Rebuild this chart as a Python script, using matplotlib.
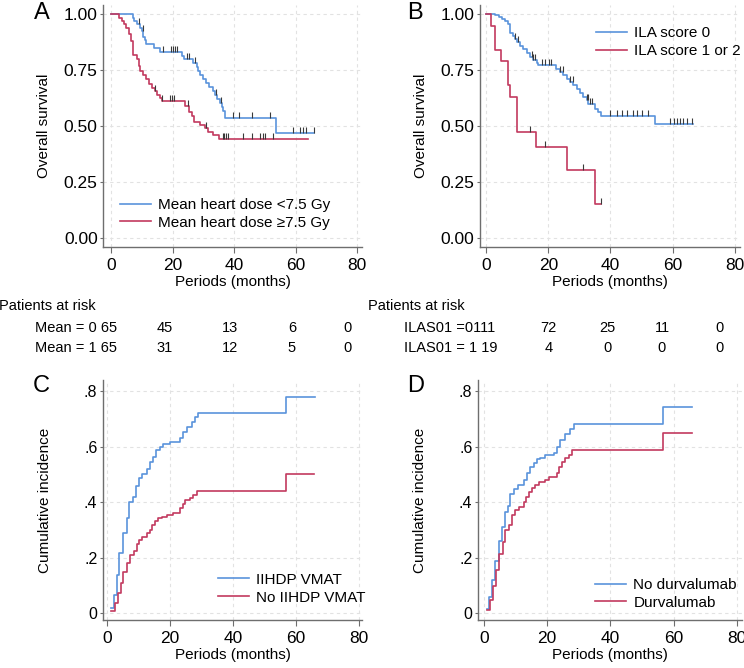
import numpy as np
import matplotlib
matplotlib.use("Agg")
import matplotlib.pyplot as plt

plt.rcParams['font.family'] = ['Liberation Sans', 'DejaVu Sans']

BLUE = '#5a93dc'
RED = '#c23a5f'
W, H = 744, 668

# ---- panel A : mean heart dose (KM) ----
a0_t = [7.0, 7.5, 8.5, 9.5, 10.0, 10.5, 11.0, 11.5, 14.0, 16.0, 23.0, 23.8, 26.8, 27.8, 28.3, 29.0,
        30.0, 31.0, 32.0, 33.0, 33.8, 34.5, 35.3, 36.0, 36.5, 37.0, 53.7]
a0_s = [0.985, 0.97, 0.955, 0.94, 0.925, 0.90, 0.885, 0.868, 0.85, 0.833, 0.815, 0.798, 0.78, 0.763,
        0.745, 0.728, 0.71, 0.693, 0.675, 0.658, 0.64, 0.622, 0.604, 0.586, 0.568, 0.535, 0.468]
a0_end = 66.0
a0_cens = [9.2, 10.3, 16.8, 19.4, 20.1, 20.8, 21.6, 24.8, 25.4, 27.3, 34.1, 35.8, 39.8, 41.7, 45.7,
           51.7, 59.3, 61.5, 62.3, 63.4, 66.0]
a1_t = [2.7, 3.5, 4.3, 5.0, 5.7, 6.5, 7.0, 8.3, 9.0, 9.5, 10.5, 11.5, 12.5, 13.3, 14.3, 15.0, 15.8,
        16.5, 24.0, 25.5, 26.3, 27.0, 29.0, 30.5, 31.5, 33.0, 35.0]
a1_s = [0.985, 0.97, 0.955, 0.94, 0.91, 0.88, 0.82, 0.80, 0.77, 0.745, 0.73, 0.71, 0.69, 0.67, 0.655,
        0.64, 0.625, 0.61, 0.59, 0.565, 0.545, 0.52, 0.505, 0.49, 0.475, 0.46, 0.44]
a1_end = 64.2
a1_cens = [14.3, 16.5, 19.2, 19.8, 20.4, 25.1, 31.0, 36.3, 36.9, 37.5, 38.2, 42.8, 45.7, 48.4, 49.3,
           50.1, 52.6]
a_labels = ['Mean heart dose <7.5 Gy', 'Mean heart dose \u22657.5 Gy']

# ---- panel B : ILA score (KM) ----
b0_t = [2.8, 4.0, 5.0, 6.0, 7.0, 7.6, 8.6, 9.2, 9.8, 10.8, 11.9, 13.0, 14.1, 15.1, 16.2, 16.8, 22.6,
        23.7, 24.8, 25.9, 26.9, 28.0, 29.1, 30.2, 31.2, 32.3, 32.9, 35.0, 36.1, 37.1, 54.2]
b0_s = [0.995, 0.99, 0.98, 0.97, 0.955, 0.916, 0.905, 0.89, 0.875, 0.86, 0.846, 0.825, 0.81, 0.795,
        0.783, 0.775, 0.757, 0.742, 0.727, 0.712, 0.697, 0.682, 0.667, 0.648, 0.63, 0.615, 0.60,
        0.578, 0.563, 0.543, 0.507]
b0_end = 66.5
b0_cens = [9.2, 10.3, 14.6, 15.1, 15.7, 17.8, 18.9, 20.3, 21.0, 23.7, 24.6, 26.9, 27.8, 32.3, 32.8,
           33.4, 34.2, 39.8, 42.0, 43.6, 45.2, 47.3, 48.4, 50.0, 52.2, 59.3, 60.3, 61.4, 62.4, 63.5,
           64.6, 66.2]
b1_t = [1.6, 2.9, 4.6, 7.0, 7.7, 9.9, 16.0, 26.0, 35.0]
b1_s = [0.947, 0.842, 0.789, 0.684, 0.632, 0.474, 0.405, 0.304, 0.152]
b1_end = 37.0
b1_cens = [14.2, 19.0, 31.0, 37.0]
b_labels = ['ILA score 0', 'ILA score 1 or 2']

# ---- panel C : IIHDP VMAT (cumulative incidence) ----
c0_t = [1.3, 2.2, 3.1, 3.9, 5.2, 6.2, 7.1, 8.1, 9.2, 10.0, 11.0, 12.6, 13.6, 14.6, 15.6, 16.9, 17.9,
        20.0, 23.2, 24.0, 25.3, 26.9, 27.9, 29.0, 56.7]
c0_v = [0.018, 0.066, 0.138, 0.216, 0.288, 0.345, 0.40, 0.42, 0.46, 0.486, 0.50, 0.52, 0.545, 0.564,
        0.588, 0.60, 0.61, 0.618, 0.63, 0.654, 0.672, 0.69, 0.708, 0.723, 0.78]
c0_end = 66.0
c1_t = [1.3, 2.5, 3.6, 4.3, 5.2, 6.2, 7.3, 8.4, 9.4, 10.2, 11.0, 12.6, 13.6, 14.2, 15.2, 16.3, 17.3,
        18.9, 21.0, 23.2, 24.0, 24.8, 26.3, 27.4, 28.5, 56.7]
c1_v = [0.01, 0.036, 0.072, 0.11, 0.15, 0.18, 0.21, 0.225, 0.25, 0.264, 0.276, 0.288, 0.30, 0.318,
        0.333, 0.342, 0.348, 0.354, 0.363, 0.378, 0.392, 0.408, 0.414, 0.426, 0.441, 0.50]
c1_end = 65.7
c_labels = ['IIHDP VMAT', 'No IIHDP VMAT']

# ---- panel D : durvalumab (cumulative incidence) ----
d0_t = [1.1, 1.8, 2.6, 3.7, 4.7, 5.8, 6.6, 7.7, 8.4, 9.5, 10.8, 12.6, 13.7, 14.7, 15.8, 16.8, 17.8,
        19.5, 22.1, 23.2, 24.2, 25.8, 27.4, 28.4, 56.8]
d0_v = [0.014, 0.06, 0.12, 0.19, 0.26, 0.31, 0.366, 0.386, 0.428, 0.446, 0.462, 0.48, 0.504, 0.528,
        0.542, 0.554, 0.561, 0.57, 0.576, 0.60, 0.624, 0.644, 0.662, 0.681, 0.743]
d0_end = 65.8
d1_t = [1.1, 2.1, 2.8, 3.9, 4.9, 6.0, 6.8, 7.9, 8.9, 10.0, 11.1, 12.6, 13.5, 14.4, 15.3, 16.3, 17.4,
        19.5, 20.5, 23.2, 23.7, 24.7, 25.8, 26.8, 27.9, 56.8]
d1_v = [0.012, 0.048, 0.10, 0.156, 0.212, 0.258, 0.30, 0.318, 0.354, 0.372, 0.384, 0.402, 0.42, 0.438,
        0.45, 0.462, 0.474, 0.48, 0.49, 0.504, 0.528, 0.546, 0.558, 0.57, 0.588, 0.648]
d1_end = 65.8
d_labels = ['No durvalumab', 'Durvalumab']

# ---- risk tables ----
risk_a_rows = ['Mean = 0 65', 'Mean = 1 65']
risk_a_vals = [[45, 13, 6, 0], [31, 12, 5, 0]]
risk_b_rows = ['ILAS01 =0111', 'ILAS01 = 1 19']
risk_b_vals = [[72, 25, 11, 0], [4, 0, 0, 0]]


def px(x, y):
    return x / W, 1 - y / H


def style_ax(ax, yticks, yfmt, ysize):
    for s in ['top', 'right']:
        ax.spines[s].set_visible(False)
    for s in ['left', 'bottom']:
        ax.spines[s].set_color('#6e6e6e')
        ax.spines[s].set_linewidth(1.0)
    ax.set_xticks([0, 20, 40, 60, 80])
    ax.set_yticks(yticks)
    ax.set_yticklabels([yfmt(v) for v in yticks])
    ax.grid(True, color='#e2e2e2', linestyle=(0, (3, 3)), linewidth=0.8)
    ax.set_axisbelow(True)
    ax.tick_params(axis='x', length=4, width=0.8, color='#6e6e6e', pad=4, labelsize=12.5)
    ax.tick_params(axis='y', length=2.5, width=0.8, color='#6e6e6e', pad=1.5, labelsize=ysize)
    ax.set_xlabel('Periods (months)', fontsize=11, labelpad=1.5)


def km(ax, t, s, t_end, cens, color, label):
    x = np.r_[0, t, t_end]
    y = np.r_[1, s, s[-1]]
    ax.step(x, y, where='post', color=color, lw=1.2, label=label)
    idx = np.searchsorted(x, cens, side='right') - 1
    ax.plot(cens, y[idx], linestyle='none', marker=2, markersize=4, mew=0.8, color='#3a3a3a')


def cif(ax, t, v, t_end, color, label):
    x = np.r_[t, t_end]
    y = np.r_[v, v[-1]]
    ax.step(x, y, where='post', color=color, lw=1.2, label=label)


fig = plt.figure(figsize=(W / 100, H / 100), dpi=100)

axA = fig.add_axes([103.3 / W, 1 - 246.7 / H, 258.7 / W, 241.3 / H])
axB = fig.add_axes([479.7 / W, 1 - 246.7 / H, 260.3 / W, 241.3 / H])
axC = fig.add_axes([103 / W, 1 - 620 / H, 259 / W, 240 / H])
axD = fig.add_axes([478 / W, 1 - 620 / H, 264 / W, 240 / H])

km(axA, a0_t, a0_s, a0_end, a0_cens, BLUE, a_labels[0])
km(axA, a1_t, a1_s, a1_end, a1_cens, RED, a_labels[1])
km(axB, b0_t, b0_s, b0_end, b0_cens, BLUE, b_labels[0])
km(axB, b1_t, b1_s, b1_end, b1_cens, RED, b_labels[1])
cif(axC, c0_t, c0_v, c0_end, BLUE, c_labels[0])
cif(axC, c1_t, c1_v, c1_end, RED, c_labels[1])
cif(axD, d0_t, d0_v, d0_end, BLUE, d_labels[0])
cif(axD, d1_t, d1_v, d1_end, RED, d_labels[1])

for ax in [axA, axB]:
    style_ax(ax, [0, 0.25, 0.5, 0.75, 1.0], lambda v: '%.2f' % v, 12.5)
    ax.set_ylim(-0.04, 1.04)
    ax.set_ylabel('Overall survival', fontsize=11, labelpad=9)
axA.set_xlim(-2.5, 81.6)
axB.set_xlim(-2.1, 81.7)

for ax in [axC, axD]:
    style_ax(ax, [0, 0.2, 0.4, 0.6, 0.8], lambda v: ('%.1f' % v).lstrip('0') if v else '0', 11.5)
    ax.set_ylim(-0.024, 0.84)
    ax.set_ylabel('Cumulative incidence', fontsize=11, labelpad=23)
axC.set_xlim(-1.3, 81.0)
axD.set_xlim(-1.8, 81.6)

leg_kw = dict(frameon=False, fontsize=11, handlelength=2.0, handletextpad=0.5,
              labelspacing=0.25, borderpad=0, borderaxespad=0)
axA.legend(loc='lower left', bbox_to_anchor=(0.065, 0.07), **leg_kw)
axB.legend(loc='upper left', bbox_to_anchor=(0.447, 0.913), **leg_kw)
axC.legend(loc='lower left', bbox_to_anchor=(0.445, 0.064), **leg_kw)
axD.legend(loc='lower left', bbox_to_anchor=(0.444, 0.043), **leg_kw)

# panel letters
for letter, (x, y) in zip('ABCD', [(42, 13), (415, 13), (41, 386), (416, 386)]):
    fig.text(*px(x, y), letter, fontsize=17, ha='center', va='center')

# risk tables
fig.text(*px(-1, 305.7), 'Patients at risk', fontsize=10.5, ha='left', va='center')
fig.text(*px(368, 305.7), 'Patients at risk', fontsize=10.5, ha='left', va='center')
row_y = [328.3, 348.3]
cols_a = [165, 230, 292, 348]
cols_b = [548.7, 607, 662, 720]
for i in range(2):
    fig.text(*px(35, row_y[i]), risk_a_rows[i], fontsize=10.5, ha='left', va='center')
    fig.text(*px(403.7, row_y[i]), risk_b_rows[i], fontsize=10.5, ha='left', va='center')
    for j in range(4):
        fig.text(*px(cols_a[j], row_y[i]), str(risk_a_vals[i][j]), fontsize=10.5, ha='center', va='center')
        fig.text(*px(cols_b[j], row_y[i]), str(risk_b_vals[i][j]), fontsize=10.5, ha='center', va='center')

fig.savefig('out.png', dpi=100)
